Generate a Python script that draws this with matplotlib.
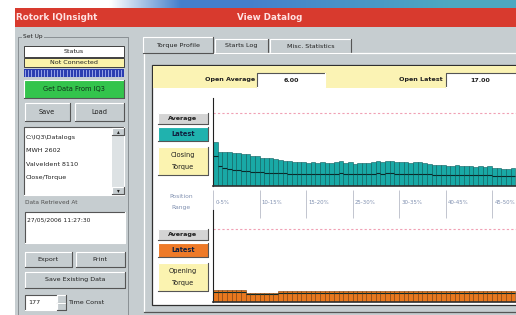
import matplotlib.pyplot as plt
import numpy as np
from matplotlib.patches import Rectangle

# closing torque, latest run (one bar per position step)
close_latest = [44, 34, 34, 34, 33, 33, 32, 32, 30, 30, 28, 28, 28, 27, 26, 25, 25,
                24, 24, 24, 23, 24, 23, 24, 23, 23, 24, 25, 23, 24, 22, 23, 23,
                23, 24, 25, 24, 25, 25, 24, 24, 24, 23, 24, 24, 23, 22, 21, 21,
                21, 20, 20, 21, 20, 20, 20, 19, 20, 19, 20, 18, 18, 17, 17, 18]
close_average = [30, 20, 18, 17, 16, 16, 15, 15, 14, 14, 14, 13, 13, 13, 13, 13, 12,
                 12, 12, 12, 12, 12, 12, 12, 12, 12, 12, 13, 12, 12, 12, 12, 12,
                 12, 12, 13, 12, 13, 13, 12, 12, 12, 12, 12, 12, 12, 12, 11, 11,
                 11, 11, 11, 11, 11, 11, 11, 11, 11, 11, 11, 10, 10, 10, 10, 10]
open_latest = [12] * 7 + [9] * 7 + [11] * 51
open_average = [10] * 7 + [8] * 7 + [9] * 51
torque_limit = 73
range_labels = ["0-5%", "10-15%", "15-20%", "25-30%", "30-35%", "40-45%", "45-50%"]
open_avg_value = "6.00"
open_latest_value = "17.00"
setup_files = ["C:\\IQ3\\Datalogs", "MWH 2602", "ValveIdent 8110", "Close/Torque"]
retrieved_at = "27/05/2006 11:27:30"

W, H = 516, 315
GRAY = "#c6cdd0"
fig = plt.figure(figsize=(W / 100, H / 100), dpi=100)
bg = fig.add_axes([0, 0, 1, 1])
bg.set_xlim(0, W)
bg.set_ylim(H, 0)
bg.axis("off")


def box(x0, y0, x1, y1, fc, ec=None, lw=0.7, z=1, raised=False, sunken=False):
    bg.add_patch(Rectangle((x0, y0), x1 - x0, y1 - y0, fc=fc,
                           ec=ec if ec else "none", lw=lw, zorder=z))
    if raised or sunken:
        lt, dk = ("white", "#555555") if raised else ("#555555", "white")
        bg.plot([x0, x0, x1], [y1, y0, y0], color=lt, lw=0.8, zorder=z + 0.1)
        bg.plot([x0, x1, x1], [y1, y1, y0], color=dk, lw=0.8, zorder=z + 0.1)


def txt(x, y, s, size=4.6, ha="center", color="#202020", weight="normal", z=5):
    bg.text(x, y, s, fontsize=size, ha=ha, va="center", color=color,
            fontweight=weight, zorder=z)


# window background
box(0, 0, W, H, "white", z=0)
box(15, 27, W, H, GRAY, z=0.5)

# desktop strip at the top
cols = np.linspace(0, W, 300)
t = np.clip((cols - 110) / 70, 0, 1)
t2 = np.clip((cols - 250) / 200, 0, 1)
blue = np.array([0.27, 0.50, 0.80])
teal = np.array([0.30, 0.66, 0.76])
tint = blue[None, :] * (1 - t2[:, None]) + teal[None, :] * t2[:, None]
strip = np.ones((1, 300, 3)) * (1 - t[None, :, None]) + tint[None] * t[None, :, None]
bg.imshow(strip, extent=[0, W, 8, 0], aspect="auto", zorder=0.6)
bg.set_xlim(0, W)
bg.set_ylim(H, 0)

# title bar
box(15, 8, W, 27, "#d83a2e", z=1)
txt(16, 18, "Rotork IQInsight", size=6.3, ha="left", color="#ffe2e2", weight="bold")
txt(270, 18, "View Datalog", size=6.3, color="#ffe2e2", weight="bold")

# ---- left "Set Up" panel
bg.plot([18, 18, 128, 128], [H, 37, 37, H], color="#8a9094", lw=0.7, zorder=1)
box(22, 33, 44, 40, GRAY, z=1.2)
txt(33, 36.5, "Set Up", size=4.2)
box(24, 46, 124, 57, "white", ec="#404040", z=2)
txt(74, 51.5, "Status")
box(24, 58, 124, 67, "#fbf3aa", ec="#404040", z=2)
txt(74, 62.5, "Not Connected")
box(24, 69, 124, 77, "#2a3cb0", z=2)
for xs in np.arange(25, 124, 3.2):
    bg.plot([xs, xs], [70, 76], color="#a8b4f0", lw=0.6, zorder=2.2)
box(24, 80, 124, 98, "#33c44c", ec="#1f5a2a", z=2, raised=True)
txt(74, 89, "Get Data From IQ3", size=4.8, color="#10301a")
box(25, 103, 70, 121, GRAY, z=2, raised=True)
txt(47, 112, "Save", size=4.8)
box(75, 103, 124, 121, GRAY, z=2, raised=True)
txt(99, 112, "Load", size=4.8)
box(24, 127, 124, 195, "white", z=2, sunken=True)
box(112, 128, 124, 194, "#dde2e4", z=2.3)
box(112, 128, 124, 135, GRAY, z=2.4, raised=True)
box(112, 187, 124, 194, GRAY, z=2.4, raised=True)
txt(118, 190.5, "▾", size=4)
txt(118, 131.5, "▴", size=4)
for i, name in enumerate(setup_files):
    txt(26, 138 + 13 * i, name, ha="left", size=4.6)
txt(25, 203, "Data Retrieved At", ha="left", size=4.2, color="#505050")
box(25, 212, 125, 243, "white", z=2, sunken=True)
txt(27, 220, retrieved_at, ha="left", size=4.3)
box(25, 252, 72, 267, GRAY, z=2, raised=True)
txt(48, 259.5, "Export", size=4.6)
box(76, 252, 125, 267, GRAY, z=2, raised=True)
txt(100, 259.5, "Print", size=4.6)
box(25, 272, 125, 288, GRAY, z=2, raised=True)
txt(75, 280, "Save Existing Data", size=4.6)
box(25, 295, 57, 310, "white", z=2, sunken=True)
txt(28, 302.5, "177", ha="left", size=4.6)
box(57, 295, 66, 302.5, GRAY, z=2, raised=True)
box(57, 302.5, 66, 310, GRAY, z=2, raised=True)
txt(68, 302.5, "Time Const", ha="left", size=4.6)

# ---- tabs
box(143, 37, 213, 53, GRAY, z=2, raised=True)
txt(178, 45, "Torque Profile", size=4.6)
box(215, 39, 268, 53, GRAY, z=1.8, raised=True)
txt(241.5, 46, "Starts Log", size=4.6)
box(270, 39, 351, 53, GRAY, z=1.8, raised=True)
txt(310.5, 46, "Misc. Statistics", size=4.6)
bg.plot([144, 144], [53, 312], color="white", lw=0.9, zorder=2)
bg.plot([144, W], [312, 312], color="#555555", lw=0.9, zorder=2)
bg.plot([213, W], [53, 53], color="white", lw=0.9, zorder=2)

# inner panel
box(152, 65, W + 2, 305, "white", ec="#303030", lw=0.9, z=2)
box(153, 66, W + 2, 88, "#fbf3b4", z=2.1)
txt(255, 80, "Open Average", ha="right", size=4.6, weight="bold")
box(257, 73, 325, 87, "white", z=2.5, sunken=True)
txt(291, 80, open_avg_value, size=4.6, weight="bold")
txt(443, 80, "Open Latest", ha="right", size=4.6, weight="bold")
box(446, 73, W + 2, 87, "white", z=2.5, sunken=True)
txt(480, 80, open_latest_value, size=4.6, weight="bold")


def legend(y0, latest_color, label):
    box(158, y0, 208, y0 + 11, "#d4d4d4", ec="#404040", z=3, raised=True)
    txt(183, y0 + 5.5, "Average", size=4.6, weight="bold")
    box(158, y0 + 14, 208, y0 + 28, latest_color, ec="#404040", z=3, raised=True)
    txt(183, y0 + 21, "Latest", size=4.8, weight="bold", color="#102040")
    box(158, y0 + 34, 208, y0 + 62, "#fbf3b0", ec="#404040", z=3, raised=True)
    txt(183, y0 + 42, label, size=4.8)
    txt(183, y0 + 54, "Torque", size=4.8)


legend(113, "#20b2ae", "Closing")
legend(229, "#ee7a28", "Opening")
txt(181, 196, "Position", size=4.3, color="#8090b0")
txt(181, 208, "Range", size=4.3, color="#8090b0")


def frac(x0, y0, x1, y1):
    return [x0 / W, 1 - y1 / H, (x1 - x0) / W, (y1 - y0) / H]


def torque_axes(rect, ytop, latest, average, face, edge):
    ax = fig.add_axes(frac(*rect))
    ax.patch.set_alpha(0)
    n = np.arange(len(latest))
    ax.bar(n, latest, width=1, align="edge", color=face, edgecolor=edge, lw=0.4, zorder=2)
    ax.hlines(average, n, n + 1, color="#0a2a2a", lw=0.8, zorder=3)
    ax.axhline(torque_limit, color="#f0a0b4", ls=(0, (2, 2)), lw=0.8)
    ax.set_xlim(0, (rect[2] - rect[0]) / 4.65)
    ax.set_ylim(0, ytop)
    for s in ["top", "right"]:
        ax.spines[s].set_visible(False)
    ax.spines["left"].set_color("#202020")
    ax.spines["bottom"].set_color("#303030")
    ax.spines["bottom"].set_linewidth(1.2)
    ax.set_xticks([])
    ax.set_yticks([])
    return ax


up = torque_axes((213, 98, W, 186), 88, close_latest, close_average, "#19a9a6", "#0a5c5c")
lo = torque_axes((213, 210, W, 302), 92, open_latest, open_average, "#e8781e", "#7a3a08")

ticks = np.arange(0, 70, 10)[:len(range_labels)]
up.vlines(ticks, -0.05, -0.36, transform=up.get_xaxis_transform(), color="#b8bcc8",
          lw=0.6, clip_on=False)
for tk, lab in zip(ticks, range_labels):
    up.text(tk + 0.5, -0.19, lab, transform=up.get_xaxis_transform(), fontsize=3.9,
            color="#8090b0", ha="left", va="center")

fig.savefig("out.png", dpi=100)
